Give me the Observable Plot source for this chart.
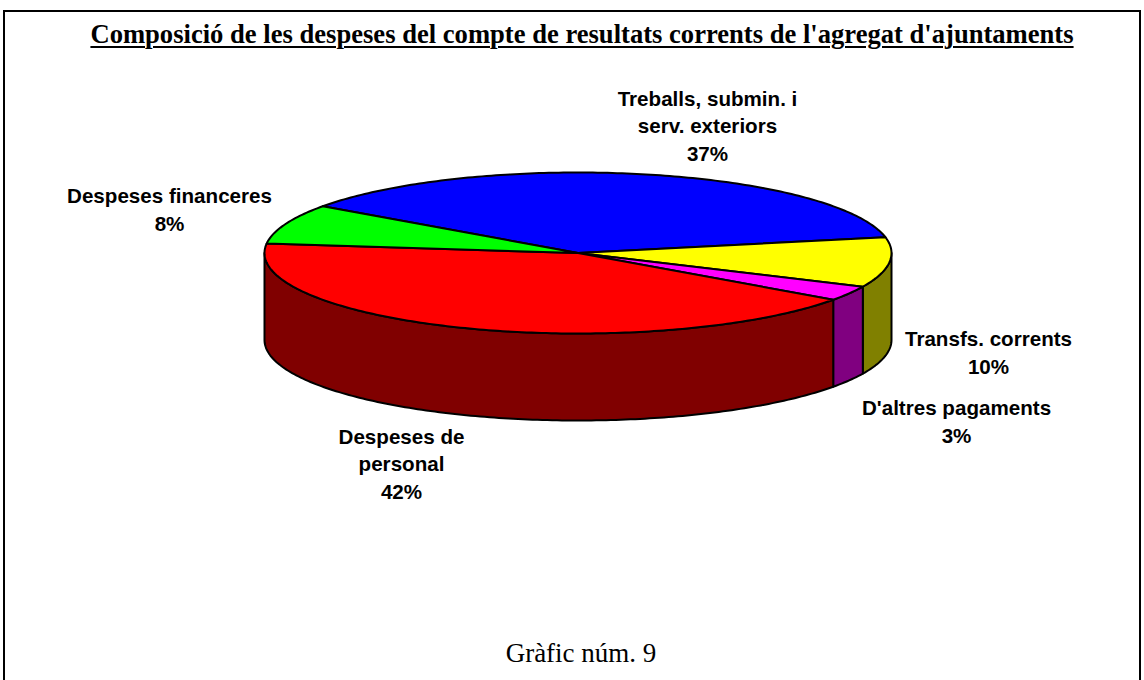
<!DOCTYPE html>
<html><head><meta charset="utf-8">
<script src="https://cdn.jsdelivr.net/npm/d3@7"></script>
<script src="https://cdn.jsdelivr.net/npm/@observablehq/plot@0.6"></script>
<style>
html,body{margin:0;padding:0;background:#fff;}
body{width:1144px;height:680px;overflow:hidden;position:relative;}
#frame{position:absolute;left:3px;top:10px;width:1138px;height:740px;border:2px solid #000;box-sizing:border-box;}
#title{position:absolute;left:0;top:19px;width:1164px;text-align:center;font-family:"Liberation Serif","Times New Roman",serif;font-weight:bold;font-size:26.6px;line-height:30px;text-decoration:underline;text-decoration-thickness:2px;text-underline-offset:3px;color:#000;}
#chart{position:absolute;left:0;top:60px;}
#caption{position:absolute;left:0;top:638px;width:1162px;text-align:center;font-family:"Liberation Serif","Times New Roman",serif;font-size:27px;line-height:30px;color:#000;}
</style>
</head>
<body>
<div id="frame"></div>
<div id="title">Composició de les despeses del compte de resultats corrents de l'agregat d'ajuntaments</div>
<div id="chart"></div>
<div id="caption">Gràfic núm. 9</div>
<script>
// ---- data ----
const categories = ["Treballs, submin. i serv. exteriors", "Transfs. corrents", "D'altres pagaments", "Despeses de personal", "Despeses financeres"];
const values = [37, 10, 3, 42, 8];
const labelLines = ["Treballs, submin. i\nserv. exteriors", "Transfs. corrents", "D'altres pagaments", "Despeses de\npersonal", "Despeses financeres"];
const topColors = ["#0000ff", "#ffff00", "#ff00ff", "#ff0000", "#00ff00"];
const sideColors = ["#000080", "#808000", "#800080", "#800000", "#008000"];

// ---- layout (page pixels) ----
const cx = 577.5, cy = 252.5, rx = 313.5, ry = 80.5, depth = 87;
const start = -54.5 * Math.PI / 180;
const labelPos = [[707, 160], [988, 373], [956, 442], [401, 498], [169, 230]];

const pie = d3.pie().sort(null).value(d => d).startAngle(start).endAngle(start + 2 * Math.PI)(values);
const topP = (t, dz = 0) => ({x: cx + rx * Math.sin(t), y: cy - ry * Math.cos(t) + dz});

const topPts = [], sidePts = [];
pie.forEach((a, i) => {
  const a0 = a.startAngle, a1 = a.endAngle;
  const n = Math.max(4, Math.ceil((a1 - a0) / (2 * Math.PI) * 400));
  topPts.push({x: cx, y: cy, k: i, fill: topColors[i]});
  for (let j = 0; j <= n; j++) {
    const p = topP(a0 + (a1 - a0) * j / n);
    topPts.push({...p, k: i, fill: topColors[i]});
  }
  topPts.push({x: cx, y: cy, k: i, fill: topColors[i]});
  const lo = Math.max(a0, Math.PI / 2), hi = Math.min(a1, 3 * Math.PI / 2);
  if (hi > lo) {
    const m = Math.max(4, Math.ceil((hi - lo) / (2 * Math.PI) * 400));
    const pts = [];
    for (let j = 0; j <= m; j++) pts.push(topP(lo + (hi - lo) * j / m));
    for (let j = m; j >= 0; j--) pts.push(topP(lo + (hi - lo) * j / m, depth));
    pts.push(pts[0]);
    pts.forEach(p => sidePts.push({...p, k: i, fill: sideColors[i]}));
  }
});

const labelData = values.map((v, i) => ({
  x: labelPos[i][0], y: labelPos[i][1],
  text: labelLines[i] + "\n" + v + "%",
  cat: categories[i]
}));

const chart = Plot.plot({
  width: 1144,
  height: 560,
  margin: 0,
  x: {domain: [0, 1144], range: [0, 1144], axis: null},
  y: {domain: [60, 620], range: [0, 560], axis: null},
  color: {type: "identity"},
  marks: [
    Plot.line(sidePts, {x: "x", y: "y", z: "k", fill: "fill", stroke: "#000", strokeWidth: 2, strokeLinejoin: "round", curve: "linear"}),
    Plot.line(topPts, {x: "x", y: "y", z: "k", fill: "fill", stroke: "#000", strokeWidth: 2, strokeLinejoin: "round", curve: "linear"}),
    Plot.text(labelData, {x: "x", y: "y", text: "text", fontSize: 20.6, fontWeight: "bold", fontFamily: "Liberation Sans, Arial, sans-serif", lineHeight: 1.32, lineAnchor: "bottom", textAnchor: "middle", fill: "#000"})
  ]
});
document.getElementById("chart").appendChild(chart);
</script>
</body></html>
